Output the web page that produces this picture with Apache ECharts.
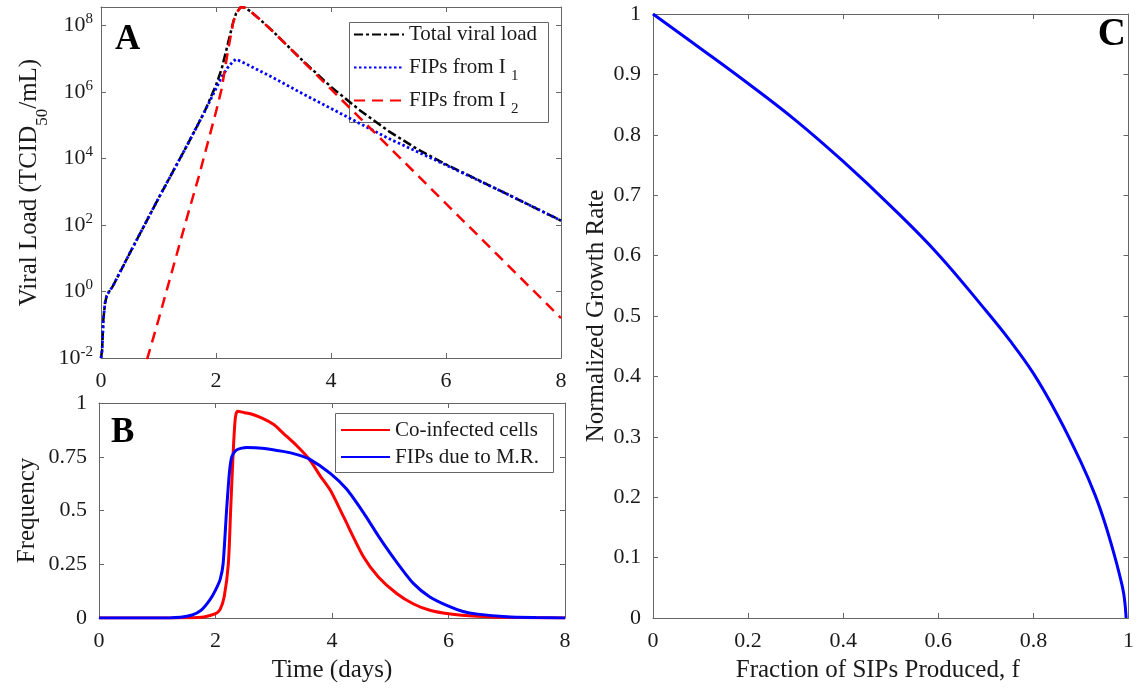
<!DOCTYPE html>
<html>
<head>
<meta charset="utf-8">
<script src="https://cdn.jsdelivr.net/npm/echarts@6/dist/echarts.min.js"></script>
<style>
html,body{margin:0;padding:0;background:#fff;}
#chart{width:1137px;height:691px;}
</style>
</head>
<body>
<div id="chart"></div>
<script>
// ---------- Panel A: viral load (log10 of TCID50/mL) ----------
const totalT     = [0, 0.02, 0.04, 0.07, 0.1, 0.15, 0.2, 0.5, 1.0, 1.5, 1.8, 2.0, 2.1, 2.2, 2.3, 2.35, 2.43, 2.5, 2.6, 2.8, 3.0, 3.5, 4.0, 4.5, 5.0, 5.5, 6.0, 7.0, 8.0];
const totalLog10 = [-2, -1.76, -0.86, -0.35, -0.12, 0.02, 0.14, 1.15, 2.8, 4.4, 5.4, 6.2, 6.7, 7.4, 8.1, 8.36, 8.55, 8.53, 8.42, 8.12, 7.8, 6.95, 6.15, 5.45, 4.82, 4.28, 3.82, 2.98, 2.13];
const fip1T      = [0, 0.02, 0.04, 0.07, 0.1, 0.15, 0.2, 0.5, 1.0, 1.5, 1.8, 2.0, 2.1, 2.2, 2.3, 2.35, 2.5, 3.0, 3.5, 4.0, 4.5, 5.0, 5.5, 6.0, 7.0, 8.0];
const fip1Log10  = [-2, -1.76, -0.86, -0.35, -0.12, 0.02, 0.14, 1.15, 2.8, 4.4, 5.4, 6.1, 6.45, 6.72, 6.92, 6.98, 6.86, 6.42, 5.95, 5.5, 5.05, 4.6, 4.2, 3.8, 2.98, 2.13];
const fip2T      = [0.8, 1.0, 1.5, 1.7, 2.0, 2.1, 2.2, 2.3, 2.35, 2.43, 2.5, 2.6, 2.8, 3.0, 3.5, 4.0, 4.5, 5.0, 6.0, 7.0, 8.0];
const fip2Log10  = [-2.05, -0.85, 2.25, 3.45, 5.4, 6.1, 7.15, 8.1, 8.36, 8.55, 8.53, 8.42, 8.12, 7.8, 6.94, 6.08, 5.22, 4.36, 2.64, 0.92, -0.8];

// ---------- Panel B: frequency ----------
const coT  = [0, 1.0, 1.5, 1.8, 2.0, 2.08, 2.15, 2.22, 2.26, 2.3, 2.34, 2.38, 2.5, 2.6, 2.8, 3.0, 3.16, 3.4, 3.62, 3.8, 3.97, 4.2, 4.54, 4.8, 5.11, 5.4, 5.68, 6.0, 6.5, 7.0, 8.0];
const coF  = [0, 0, 0.001, 0.005, 0.02, 0.04, 0.1, 0.25, 0.5, 0.75, 0.93, 0.962, 0.955, 0.95, 0.93, 0.9, 0.86, 0.8, 0.735, 0.66, 0.595, 0.47, 0.285, 0.19, 0.114, 0.065, 0.036, 0.02, 0.008, 0.003, 0];
const mrT  = [0, 1.0, 1.4, 1.6, 1.75, 1.9, 2.0, 2.08, 2.13, 2.19, 2.24, 2.28, 2.35, 2.45, 2.54, 2.8, 3.16, 3.4, 3.62, 3.97, 4.25, 4.54, 4.8, 5.11, 5.4, 5.68, 6.0, 6.25, 6.5, 7.0, 7.5, 8.0];
const mrF  = [0, 0, 0.004, 0.014, 0.035, 0.083, 0.13, 0.18, 0.25, 0.5, 0.68, 0.75, 0.78, 0.79, 0.793, 0.79, 0.775, 0.76, 0.738, 0.673, 0.6, 0.49, 0.38, 0.26, 0.16, 0.098, 0.055, 0.03, 0.018, 0.006, 0.002, 0];

// ---------- Panel C: normalized growth rate ----------
const fracF  = [0, 0.1, 0.2, 0.3, 0.4, 0.5, 0.6, 0.7, 0.75, 0.8, 0.85, 0.9, 0.93, 0.95, 0.97, 0.98, 0.99, 0.995];
const growth = [1, 0.943, 0.885, 0.824, 0.756, 0.682, 0.602, 0.509, 0.46, 0.405, 0.337, 0.258, 0.203, 0.158, 0.105, 0.075, 0.04, 0];

const FONT = "'Liberation Serif','Times New Roman',serif";
const AXC = '#666';
const TXC = '#1a1a1a';

function pairs(xs, ys){ return xs.map((x,i)=>[x, ys[i]]); }

function axisBase(o){
  return Object.assign({
    type:'value', splitLine:{show:false},
    axisLine:{show:true, onZero:false, lineStyle:{color:AXC, width:1}},
    axisTick:{show:true, inside:true, length:5, lineStyle:{color:AXC}},
    axisLabel:{show:true, color:TXC, fontFamily:FONT, fontSize:22, margin:12},
    nameTextStyle:{color:TXC, fontFamily:FONT, fontSize:25}
  }, o);
}
function mirror(o){
  const a = axisBase(o);
  a.axisLabel = {show:false};
  return a;
}

const supFmt = v => {
  const r = Math.round(v);
  return (Math.abs(v - r) < 1e-6 && r % 2 === 0) ? '10{sup|' + r + '}' : '';
};

const option = {
  animation:false,
  backgroundColor:'#fff',
  grid:[
    {left:101, top:7, width:460, height:351},
    {left:99, top:403, width:466, height:215},
    {left:653, top:14, width:477, height:604}
  ],
  xAxis:[
    axisBase({gridIndex:0, min:0, max:8, interval:2, position:'bottom'}),
    mirror({gridIndex:0, min:0, max:8, interval:2, position:'top'}),
    axisBase({gridIndex:1, min:0, max:8, interval:2, position:'bottom',
      name:'Time (days)', nameLocation:'middle', nameGap:40}),
    mirror({gridIndex:1, min:0, max:8, interval:2, position:'top'}),
    axisBase({gridIndex:2, min:0, max:1, interval:0.2, position:'bottom',
      name:'Fraction of SIPs Produced, f', nameLocation:'middle', nameGap:40,
      nameTextStyle:{color:TXC, fontFamily:FONT, fontSize:25, padding:[0,26,0,0]}}),
    mirror({gridIndex:2, min:0, max:1, interval:0.2, position:'top'})
  ],
  yAxis:[
    axisBase({gridIndex:0, min:-2, max:8.55, interval:2, position:'left',
      axisLabel:{show:true, margin:8, formatter:supFmt, color:TXC, fontFamily:FONT, fontSize:22, lineHeight:22,
        rich:{sup:{fontSize:15, lineHeight:15, padding:[0,0,12,0], verticalAlign:'middle', fontFamily:FONT, color:TXC}}},
      name:'Viral Load (TCID{sub|50}/mL)', nameLocation:'middle', nameRotate:90, nameGap:59,
      nameTextStyle:{color:TXC, fontFamily:FONT, fontSize:25, lineHeight:25,
        rich:{sub:{fontSize:17, lineHeight:17, padding:[26,0,0,0], verticalAlign:'middle', fontFamily:FONT, color:TXC}}}}),
    mirror({gridIndex:0, min:-2, max:8.55, interval:2, position:'right'}),
    axisBase({gridIndex:1, min:0, max:1, interval:0.25, position:'left',
      name:'Frequency', nameLocation:'middle', nameRotate:90, nameGap:59}),
    mirror({gridIndex:1, min:0, max:1, interval:0.25, position:'right'}),
    axisBase({gridIndex:2, min:0, max:1, interval:0.1, position:'left',
      name:'Normalized Growth Rate', nameLocation:'middle', nameRotate:90, nameGap:44}),
    mirror({gridIndex:2, min:0, max:1, interval:0.1, position:'right'})
  ],
  legend:[
    {
      data:['Total viral load','FIPs from I1','FIPs from I2'],
      orient:'vertical', left:353, top:18, padding:0, itemGap:0,
      itemWidth:50, itemHeight:14, selectedMode:false,
      itemStyle:{opacity:0, borderWidth:0},
      formatter: n => n === 'FIPs from I1' ? 'FIPs from I {sub|1}' : (n === 'FIPs from I2' ? 'FIPs from I {sub|2}' : n),
      textStyle:{fontSize:21, fontFamily:FONT, color:TXC, lineHeight:33,
        rich:{sub:{fontSize:15, lineHeight:15, padding:[18,0,0,0], verticalAlign:'middle', fontFamily:FONT, color:TXC}}}
    },
    {
      data:['Co-infected cells','FIPs due to M.R.'],
      orient:'vertical', left:340, top:419.5, padding:0, itemGap:6,
      itemWidth:49, itemHeight:14, selectedMode:false,
      itemStyle:{opacity:0, borderWidth:0},
      textStyle:{fontSize:21, fontFamily:FONT, color:TXC, lineHeight:21}
    }
  ],
  graphic:[
    {type:'rect', z:3, shape:{x:349.5, y:22.5, width:199, height:100}, style:{fill:'#fff', stroke:AXC, lineWidth:1}},
    {type:'rect', z:3, shape:{x:335.5, y:413.5, width:218, height:59}, style:{fill:'#fff', stroke:AXC, lineWidth:1}},
    {type:'text', z:5, x:115, y:40, style:{text:'A', fontFamily:FONT, fontWeight:'bold', fontSize:35, fill:'#000', textVerticalAlign:'middle'}},
    {type:'text', z:5, x:111, y:433, style:{text:'B', fontFamily:FONT, fontWeight:'bold', fontSize:35, fill:'#000', textVerticalAlign:'middle'}},
    {type:'text', z:5, x:1126, y:35, style:{text:'C', fontFamily:FONT, fontWeight:'bold', fontSize:39, fill:'#000', textAlign:'right', textVerticalAlign:'middle'}}
  ],
  series:[
    {name:'Total viral load', type:'line', xAxisIndex:0, yAxisIndex:0, symbol:'none', smooth:false,
      data:pairs(totalT,totalLog10), lineStyle:{color:'#000', width:2.5, type:[9,3,3,3]}, itemStyle:{color:'#000'}},
    {name:'FIPs from I1', type:'line', xAxisIndex:0, yAxisIndex:0, symbol:'none', smooth:false,
      data:pairs(fip1T,fip1Log10), lineStyle:{color:'#0000ff', width:2.8, type:[2.5,2.5]}, itemStyle:{color:'#0000ff'}},
    {name:'FIPs from I2', type:'line', xAxisIndex:0, yAxisIndex:0, symbol:'none', smooth:false,
      data:pairs(fip2T,fip2Log10), lineStyle:{color:'#ff0000', width:2.5, type:[11,7]}, itemStyle:{color:'#ff0000'}},
    {name:'Co-infected cells', type:'line', xAxisIndex:2, yAxisIndex:2, symbol:'none', smooth:0.25,
      data:pairs(coT,coF), lineStyle:{color:'#ff0000', width:3}, itemStyle:{color:'#ff0000'}},
    {name:'FIPs due to M.R.', type:'line', xAxisIndex:2, yAxisIndex:2, symbol:'none', smooth:0.25,
      data:pairs(mrT,mrF), lineStyle:{color:'#0000ff', width:3}, itemStyle:{color:'#0000ff'}},
    {name:'Growth', type:'line', xAxisIndex:4, yAxisIndex:4, symbol:'none', smooth:0.4,
      data:pairs(fracF,growth), lineStyle:{color:'#0000ff', width:3}, itemStyle:{color:'#0000ff'}}
  ]
};

const chart = echarts.init(document.getElementById('chart'), null, {renderer:'canvas'});
chart.setOption(option);
</script>
</body>
</html>
